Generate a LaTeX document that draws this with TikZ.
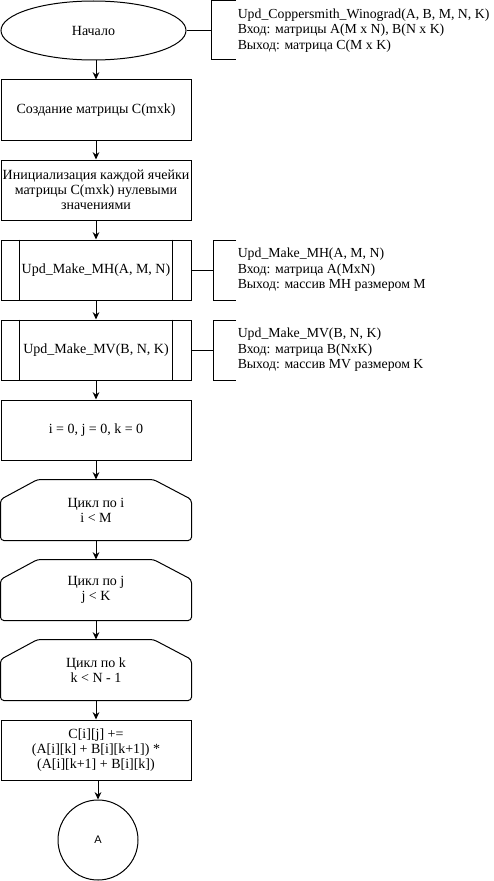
\documentclass[tikz,border=0pt]{standalone}
\usepackage{fontspec}
\setmainfont{Liberation Serif}
\setsansfont{Liberation Sans}
\usetikzlibrary{
    arrows.meta,
    shapes,
    calc
}
\tikzset{%
    >={Stealth[width=5pt,length=5.5pt]},
    % Specifications for style of nodes:
    plain/.style = {line width=0.75pt},
    base/.style = {
        plain,
        rectangle, draw=black,
        minimum width=142.5pt, minimum height=45pt,
        text centered, font=\fontsize{10.5pt}{11.3pt}\selectfont,
        fill=white, align=center, inner sep=0pt
    },
    term/.style = {base, ellipse, minimum width=138.75pt, minimum height=44.25pt},
    proc/.style = {base},
    subproc/.style = {base},
    looplim/.style = {base, draw=none, fill=none},
    conn/.style = {base, circle, minimum size=60pt,
        font=\sffamily\fontsize{8.25pt}{10pt}\selectfont},
    note/.style = {anchor=west, align=left, inner sep=0pt,
        font=\fontsize{10.35pt}{11.7pt}\selectfont},
    line/.style = {plain, ->}
}

\begin{document}
\begin{tikzpicture}[x=0.75pt, y=-0.75pt]
    \useasboundingbox (0,0) rectangle (493,881);
    % main column
    \node[term] (start) at (93.5,30.5) {Начало};
    \node[proc] (create) at (96,110) {Создание матрицы C(mxk)};
    \node[proc] (init) at (96,190) {Инициализация каждой ячейки\\матрицы C(mxk) нулевыми\\значениями};
    \node[subproc] (mh) at (96,270) {Upd\_Make\_MH(A, M, N)};
    \node[subproc] (mv) at (96,350) {Upd\_Make\_MV(B, N, K)};
    \node[proc] (zero) at (96,430) {i = 0, j = 0, k = 0};
    \node[looplim] (li) at (96,510) {Цикл по i\\i < M};
    \node[looplim] (lj) at (96,590) {Цикл по j\\j < K};
    \node[looplim] (lk) at (96,670) {Цикл по k\\k < N - 1};
    \node[proc] (calc) at (96,750) {C[i][j] +=\\(A[i][k] + B[i][k+1]) *\\(A[i][k+1] + B[i][k])};
    \node[conn] (pA) at (98,840) {A};

    % side lines of the subprocess boxes
    \foreach \n in {mh,mv}{
        \draw[plain] ($(\n.north west)+(19,0)$) -- ($(\n.south west)+(19,0)$);
        \draw[plain] ($(\n.north east)+(-19,0)$) -- ($(\n.south east)+(-19,0)$);
    }
    % loop limit outlines
    \foreach \n in {li,lj,lk}{
        \draw[plain, rounded corners=2.5pt] (\n.south west) -- ($(\n.north west)+(0,20)$)
            -- ($(\n.north west)+(37,0)$) -- ($(\n.north east)+(-38,0)$)
            -- ($(\n.north east)+(0,20)$) -- (\n.south east) -- cycle;
    }

    % comments
    \node[note] (n0) at (237.5,30.5) {Upd\_Coppersmith\_Winograd(A, B, M, N, K)\\Вход: матрицы A(M x N), B(N x K)\\Выход: матрица C(M x K)};
    \node[note] (n1) at (237.5,270) {Upd\_Make\_MH(A, M, N)\\Вход: матрица A(MxN)\\Выход: массив MH размером M};
    \node[note] (n2) at (237.5,350) {Upd\_Make\_MV(B, N, K)\\Вход: матрица B(NxK)\\Выход: массив MV размером K};
    \coordinate (b0) at (211,30.5);
    \coordinate (b1) at (213,270);
    \coordinate (b2) at (213,350);
    \draw[plain] (236,1) -| (211,60) -- (236,60);
    \draw[plain] (236,240) -| (213,300) -- (236,300);
    \draw[plain] (236,320) -| (213,380) -- (236,380);
    \draw[plain] (start) -- (b0);
    \draw[plain] (mh) -- (b1);
    \draw[plain] (mv) -- (b2);

    % arrows
    \draw[line] (start.south -| create) -- (create);
    \draw[line] (create) -- (init);
    \draw[line] (init) -- (mh);
    \draw[line] (mh) -- (mv);
    \draw[line] (mv) -- (zero);
    \draw[line] (zero) -- (li.north);
    \draw[line] (li.south) -- (lj.north);
    \draw[line] (lj.south) -- (lk.north);
    \draw[line] (lk.south) -- (calc);
    \draw[line] (calc.south -| pA) -- (pA);
\end{tikzpicture}
\end{document}
